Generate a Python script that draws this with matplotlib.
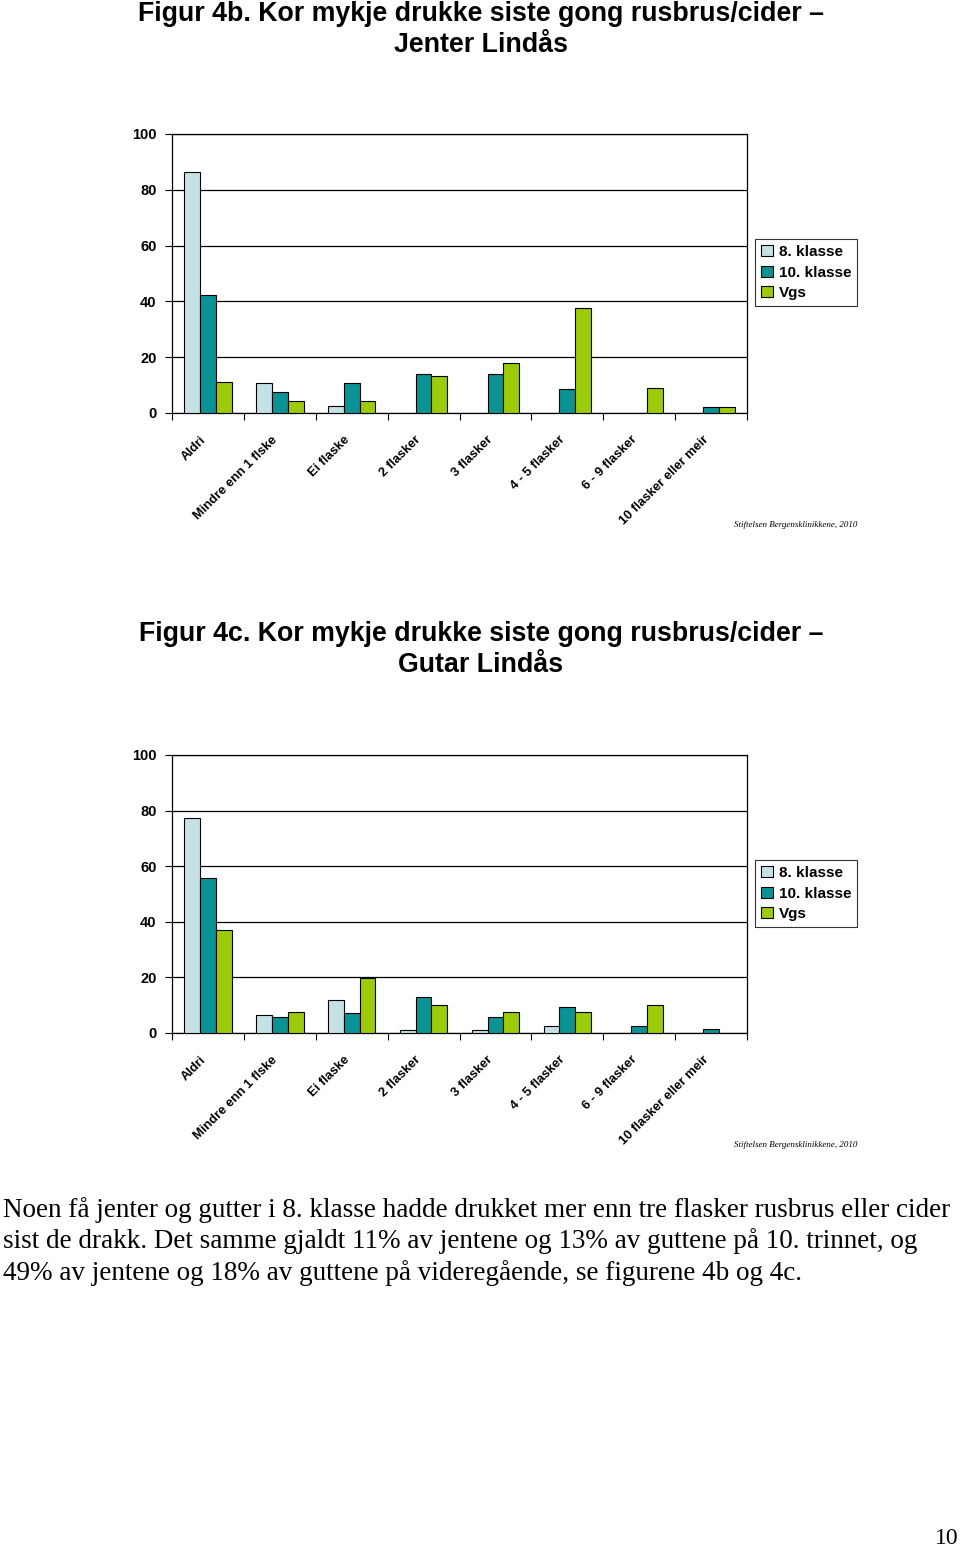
#!/usr/bin/env python3
"""Figur 4b / 4c: kor mykje drukke siste gong rusbrus/cider, Lindås."""

import numpy as np
import matplotlib
matplotlib.use('Agg')
import matplotlib.pyplot as plt
from matplotlib.ticker import FixedLocator

categories = ['Aldri', 'Mindre enn 1 flske', 'Ei flaske', '2 flasker', '3 flasker',
              '4 - 5 flasker', '6 - 9 flasker', '10 flasker eller meir']
series_names = ['8. klasse', '10. klasse', 'Vgs']

# Jenter Lindås
girls_8 = [86.3, 10.7, 2.5, 0, 0, 0, 0, 0]
girls_10 = [42.3, 7.6, 10.8, 14.0, 14.0, 8.6, 0, 2.3]
girls_vgs = [11.0, 4.3, 4.3, 13.1, 17.9, 37.8, 8.9, 2.3]

# Gutar Lindås
boys_8 = [77.3, 6.5, 12.0, 1.0, 1.0, 2.4, 0, 0]
boys_10 = [55.6, 5.8, 7.1, 12.9, 5.8, 9.4, 2.4, 1.3]
boys_vgs = [37.2, 7.7, 19.7, 10.0, 7.7, 7.7, 10.0, 0]

yticks = [0, 20, 40, 60, 80, 100]
colors = ['#c4e2e6', '#0b9294', '#9dcb0a']

SANS = ['Liberation Sans', 'DejaVu Sans']
SERIF = ['Liberation Serif', 'DejaVu Serif']

W, H = 960, 1552
fig = plt.figure(figsize=(W / 100, H / 100), dpi=100)


def px(x, y):
    return x / W, 1 - y / H


def draw_chart(top_px, bottom_px, data, title1, title2, t1_y, t2_y):
    left, right = 172, 747
    ax = fig.add_axes([left / W, 1 - bottom_px / H, (right - left) / W,
                       (bottom_px - top_px) / H])
    n = len(categories)
    x = np.arange(n)
    bw = 0.22
    for i, (vals, c, name) in enumerate(zip(data, colors, series_names)):
        vals = np.array(vals, dtype=float)
        heights = np.where(vals > 0, vals, np.nan)
        ax.bar(x + (i - 1) * bw, heights, width=bw, color=c, edgecolor='black',
               linewidth=0.8, label=name, zorder=3)
    ax.set_xlim(-0.5, n - 0.5)
    ax.set_ylim(0, 100)
    ax.set_yticks(yticks)
    ax.set_yticklabels([str(v) for v in yticks], fontfamily=SANS,
                       fontweight='bold', fontsize=10.5)
    ax.yaxis.grid(True, color='black', linewidth=0.9, zorder=0)
    ax.tick_params(axis='y', length=5, width=0.8, pad=6)
    ax.xaxis.set_major_locator(FixedLocator(np.arange(n + 1) - 0.5))
    ax.set_xticklabels([])
    ax.tick_params(axis='x', length=5, width=0.8)
    for s in ax.spines.values():
        s.set_linewidth(0.9)
        s.set_color('black')
    for xi, lab in zip(x, categories):
        ax.annotate(lab, xy=(xi, 0), xycoords='data', xytext=(-3, -18),
                    textcoords='offset points', rotation=45,
                    rotation_mode='anchor', ha='right', va='center',
                    fontfamily=SANS, fontweight='bold', fontsize=9.3)
    leg = ax.legend(loc='upper left', bbox_to_anchor=px(755, top_px + 105),
                    bbox_transform=fig.transFigure, frameon=True, fancybox=False,
                    prop={'family': SANS, 'weight': 'bold', 'size': 11},
                    handlelength=0.75, handleheight=0.75, handletextpad=0.4,
                    labelspacing=0.42, borderpad=0.4, borderaxespad=0)
    leg.get_frame().set_edgecolor('black')
    leg.get_frame().set_linewidth(0.8)
    for t, yy in ((title1, t1_y), (title2, t2_y)):
        fig.text(*px(481, yy), t, ha='center', va='center', fontfamily=SANS,
                 fontweight='bold', fontsize=19.3)
    fig.text(*px(857, bottom_px + 112), 'Stiftelsen Bergensklinikkene, 2010',
             ha='right', va='center', fontfamily=SERIF, style='italic', fontsize=6.5)
    return ax


draw_chart(134, 413, [girls_8, girls_10, girls_vgs],
           'Figur 4b. Kor mykje drukke siste gong rusbrus/cider \u2013',
           'Jenter Lindås', 14, 45)
draw_chart(755, 1033, [boys_8, boys_10, boys_vgs],
           'Figur 4c. Kor mykje drukke siste gong rusbrus/cider \u2013',
           'Gutar Lindås', 634, 665)

para = ['Noen få jenter og gutter i 8. klasse hadde drukket mer enn tre flasker rusbrus eller cider',
        'sist de drakk. Det samme gjaldt 11% av jentene og 13% av guttene på 10. trinnet, og',
        '49% av jentene og 18% av guttene på videregående, se figurene 4b og 4c.']
for i, line in enumerate(para):
    fig.text(*px(3, 1210 + 31.5 * i), line, ha='left', va='center',
             fontfamily=SERIF, fontsize=19.5)

fig.text(*px(959, 1539), '10', ha='right', va='center', fontfamily=SERIF, fontsize=17)

fig.savefig('out.png', dpi=100)
